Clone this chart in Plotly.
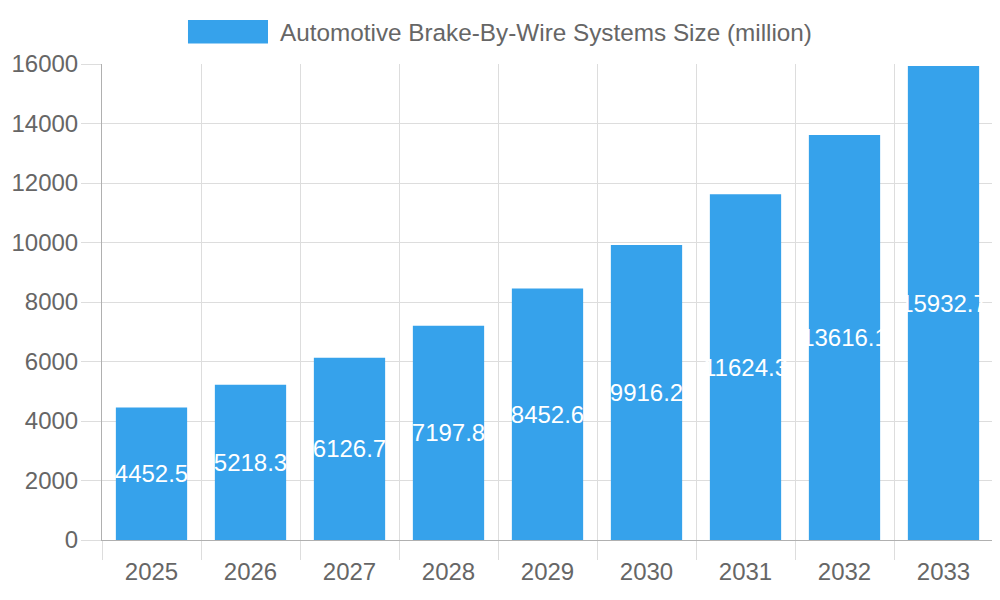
import plotly.graph_objects as go

years = ['2025', '2026', '2027', '2028', '2029', '2030', '2031', '2032', '2033']
market_size = [4452.5, 5218.3, 6126.7, 7197.8, 8452.6, 9916.2, 11624.3, 13616.1, 15932.7]
series_name = 'Automotive Brake-By-Wire Systems Size (million)'

bar_color = 'rgb(54,162,235)'
text_grey = '#666666'
grid_grey = '#dddddd'
axis_grey = '#b0b0b0'

fig = go.Figure()
fig.add_trace(go.Bar(x=years, y=market_size, name=series_name,
                     marker_color=bar_color, marker_line_width=0,
                     texttemplate='%{y:.1f}',
                     textposition='inside', insidetextanchor='middle',
                     textangle=0, textfont=dict(color='white', size=24),
                     showlegend=False))

# legend drawn by hand so the swatch is a wide box like the original
fig.add_shape(type='rect', xref='paper', yref='paper',
              x0=0.0965, x1=0.1863, y0=1.0431, y1=1.0924,
              fillcolor=bar_color, line_width=0)
fig.add_annotation(text=series_name, xref='paper', yref='paper',
                   x=0.1975, y=1.0672, xanchor='left', yanchor='middle',
                   showarrow=False, font=dict(size=24.3, color=text_grey))

fig.update_xaxes(type='category', tickson='boundaries', showgrid=True,
                 gridcolor=grid_grey, ticks='outside', ticklen=19,
                 tickcolor=grid_grey, showline=True, linecolor=axis_grey,
                 ticklabelstandoff=10, automargin=False,
                 tickfont=dict(size=24, color=text_grey))
fig.update_yaxes(range=[0, 16000], dtick=2000, tickformat='d',
                 showgrid=True, gridcolor=grid_grey,
                 ticks='outside', ticklen=20, tickcolor=grid_grey,
                 showline=True, linecolor=axis_grey, zeroline=False,
                 ticklabelstandoff=-2, automargin=False,
                 tickfont=dict(size=24, color=text_grey))

# page body adds an 8px margin, so the figure is sized to fill the rest
fig.update_layout(width=992, height=592, bargap=0.28,
                  margin=dict(l=94, r=7, t=56, b=60),
                  plot_bgcolor='white', paper_bgcolor='white',
                  font=dict(family='Liberation Sans, Arial, sans-serif'),
                  uniformtext=dict(minsize=24, mode='show'))

fig.write_html("out.html")
